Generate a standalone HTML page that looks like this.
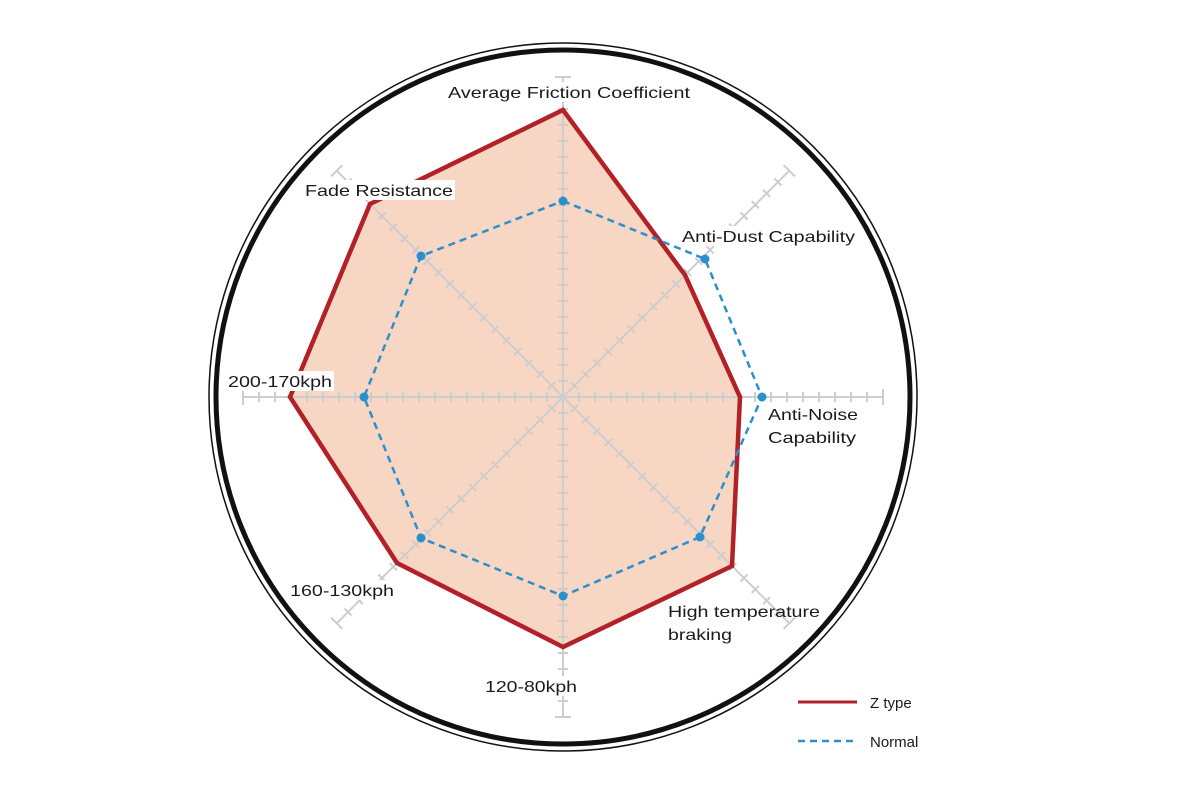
<!DOCTYPE html>
<html><head><meta charset="utf-8"><style>
html,body{margin:0;padding:0;background:#fff;}
svg{display:block;}
text{font-family:"Liberation Sans",Arial,sans-serif;fill:#1a1a1a;}
</style></head><body>
<svg width="1200" height="800" viewBox="0 0 1200 800" xmlns="http://www.w3.org/2000/svg">
<defs>
<path id="ax" d="M563,397 H883 M579,392 v10 M595,392 v10 M611,392 v10 M627,392 v10 M643,392 v10 M659,392 v10 M675,392 v10 M691,392 v10 M707,392 v10 M723,392 v10 M739,392 v10 M755,392 v10 M771,392 v10 M787,392 v10 M803,392 v10 M819,392 v10 M835,392 v10 M851,392 v10 M867,392 v10 M883,389 v16" fill="none"/>
</defs>
<circle cx="563" cy="397" r="354" fill="none" stroke="#111" stroke-width="1.5"/>
<circle cx="563" cy="397" r="347" fill="none" stroke="#111" stroke-width="5"/>
<polygon points="563,110 685,275 740,397 732,566 563,647 397,563 290,397 370,204" fill="#f7d6c4"/>
<g stroke="#cdcdcd" stroke-width="2">
<use href="#ax"/>
<use href="#ax" transform="rotate(45 563 397)"/>
<use href="#ax" transform="rotate(90 563 397)"/>
<use href="#ax" transform="rotate(135 563 397)"/>
<use href="#ax" transform="rotate(180 563 397)"/>
<use href="#ax" transform="rotate(225 563 397)"/>
<use href="#ax" transform="rotate(270 563 397)"/>
<use href="#ax" transform="rotate(315 563 397)"/>
</g>
<polygon points="563,110 685,275 740,397 732,566 563,647 397,563 290,397 370,204" fill="none" stroke="#b32128" stroke-width="4.5"/>
<polygon points="563,201 705,259 762,397 700,537 563,596 421,538 364,397 421,256" fill="none" stroke="#2b8fcc" stroke-width="2.5" stroke-dasharray="7,5"/>
<g fill="#2b8fcc">
<circle cx="563" cy="201" r="4.5"/><circle cx="705" cy="259" r="4.5"/><circle cx="762" cy="397" r="4.5"/><circle cx="700" cy="537" r="4.5"/><circle cx="563" cy="596" r="4.5"/><circle cx="421" cy="538" r="4.5"/><circle cx="364" cy="397" r="4.5"/><circle cx="421" cy="256" r="4.5"/>
</g>
<g font-size="16" font-family="Liberation Sans, Arial, sans-serif">
<rect x="446" y="82" width="246" height="20" fill="#fff"/>
<text x="569" y="98" text-anchor="middle" textLength="242" lengthAdjust="spacingAndGlyphs">Average Friction Coefficient</text>
<rect x="303" y="180" width="152" height="20" fill="#fff"/>
<text x="305" y="196" textLength="148" lengthAdjust="spacingAndGlyphs">Fade Resistance</text>
<rect x="680" y="226" width="178" height="20" fill="#fff"/>
<text x="682" y="242" textLength="173" lengthAdjust="spacingAndGlyphs">Anti-Dust Capability</text>
<rect x="226" y="371" width="108" height="20" fill="#fff"/>
<text x="228" y="387" textLength="104" lengthAdjust="spacingAndGlyphs">200-170kph</text>
<text x="768" y="420" textLength="90" lengthAdjust="spacingAndGlyphs">Anti-Noise</text>
<text x="768" y="443" textLength="88" lengthAdjust="spacingAndGlyphs">Capability</text>
<rect x="288" y="580" width="108" height="20" fill="#fff"/>
<text x="290" y="596" textLength="104" lengthAdjust="spacingAndGlyphs">160-130kph</text>
<text x="668" y="617" textLength="152" lengthAdjust="spacingAndGlyphs">High temperature</text>
<text x="668" y="640" textLength="64" lengthAdjust="spacingAndGlyphs">braking</text>
<rect x="483" y="676" width="96" height="20" fill="#fff"/>
<text x="485" y="692" textLength="92" lengthAdjust="spacingAndGlyphs">120-80kph</text>
</g>
<line x1="798" y1="702" x2="857" y2="702" stroke="#b32128" stroke-width="3"/>
<text x="870" y="708" font-size="15">Z type</text>
<line x1="798" y1="741" x2="857" y2="741" stroke="#2b8fcc" stroke-width="2.5" stroke-dasharray="7,5"/>
<text x="870" y="747" font-size="15">Normal</text>
</svg>
</body></html>
